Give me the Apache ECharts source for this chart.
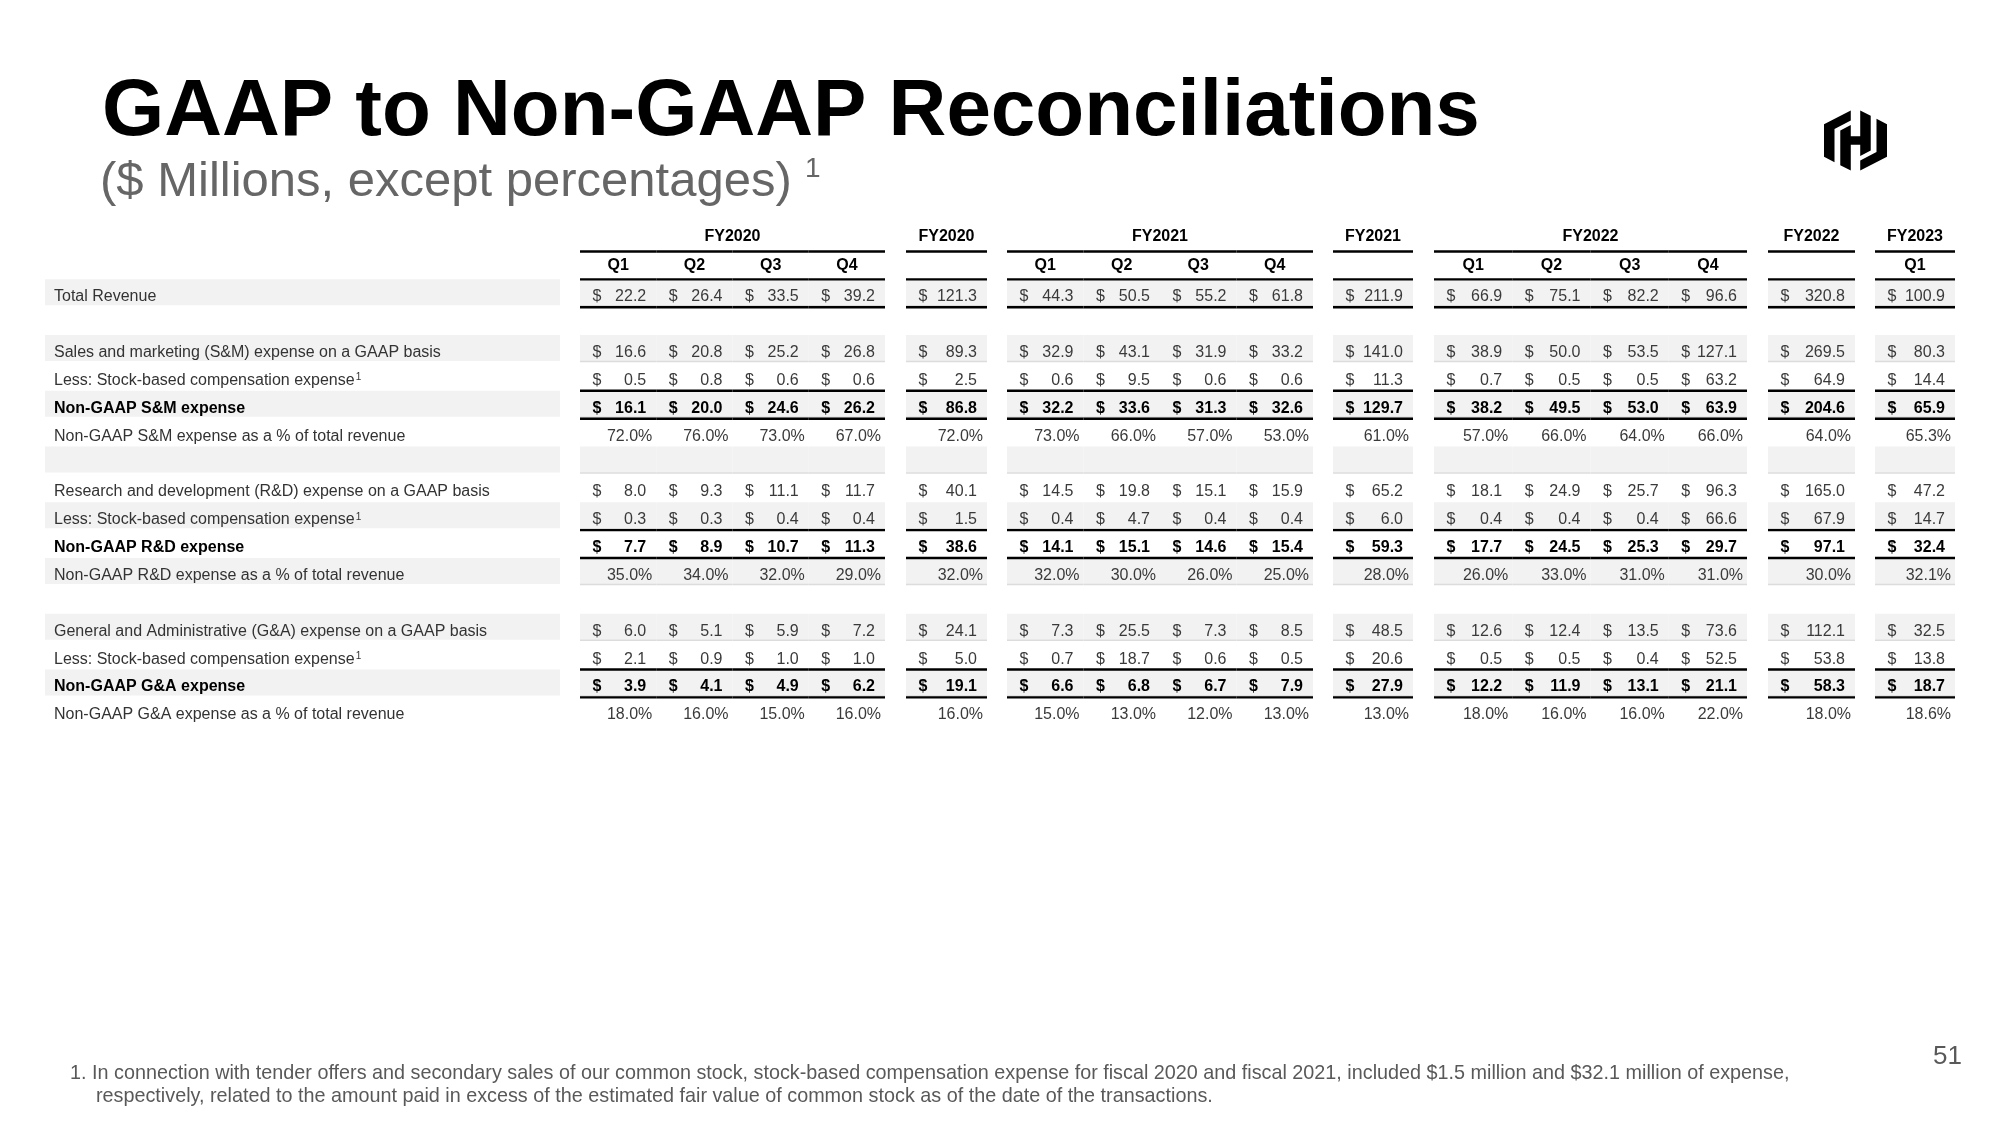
<!DOCTYPE html>
<html>
<head>
<meta charset="utf-8">
<title>GAAP to Non-GAAP Reconciliations</title>
<script src="https://cdn.jsdelivr.net/npm/echarts@6/dist/echarts.min.js"></script>
<style>
html, body { margin: 0; padding: 0; background: #fff; }
#main { width: 2000px; height: 1125px; }
</style>
</head>
<body>
<div id="main"></div>
<script>
// column headers (7 column groups)
const fyHeaders = ['FY2020', 'FY2020', 'FY2021', 'FY2021', 'FY2022', 'FY2022', 'FY2023'];
const quarterHeaders = [['Q1', 'Q2', 'Q3', 'Q4'], [''], ['Q1', 'Q2', 'Q3', 'Q4'], [''], ['Q1', 'Q2', 'Q3', 'Q4'], [''], ['Q1']];

// values, 16 columns: FY20 Q1-Q4, FY20, FY21 Q1-Q4, FY21, FY22 Q1-Q4, FY22, FY23 Q1
const totalRevenue = [22.2, 26.4, 33.5, 39.2, 121.3, 44.3, 50.5, 55.2, 61.8, 211.9, 66.9, 75.1, 82.2, 96.6, 320.8, 100.9];
const smGaap = [16.6, 20.8, 25.2, 26.8, 89.3, 32.9, 43.1, 31.9, 33.2, 141.0, 38.9, 50.0, 53.5, 127.1, 269.5, 80.3];
const smSbc = [0.5, 0.8, 0.6, 0.6, 2.5, 0.6, 9.5, 0.6, 0.6, 11.3, 0.7, 0.5, 0.5, 63.2, 64.9, 14.4];
const smNonGaap = [16.1, 20.0, 24.6, 26.2, 86.8, 32.2, 33.6, 31.3, 32.6, 129.7, 38.2, 49.5, 53.0, 63.9, 204.6, 65.9];
const smPct = [72.0, 76.0, 73.0, 67.0, 72.0, 73.0, 66.0, 57.0, 53.0, 61.0, 57.0, 66.0, 64.0, 66.0, 64.0, 65.3];
const rdGaap = [8.0, 9.3, 11.1, 11.7, 40.1, 14.5, 19.8, 15.1, 15.9, 65.2, 18.1, 24.9, 25.7, 96.3, 165.0, 47.2];
const rdSbc = [0.3, 0.3, 0.4, 0.4, 1.5, 0.4, 4.7, 0.4, 0.4, 6.0, 0.4, 0.4, 0.4, 66.6, 67.9, 14.7];
const rdNonGaap = [7.7, 8.9, 10.7, 11.3, 38.6, 14.1, 15.1, 14.6, 15.4, 59.3, 17.7, 24.5, 25.3, 29.7, 97.1, 32.4];
const rdPct = [35.0, 34.0, 32.0, 29.0, 32.0, 32.0, 30.0, 26.0, 25.0, 28.0, 26.0, 33.0, 31.0, 31.0, 30.0, 32.1];
const gaGaap = [6.0, 5.1, 5.9, 7.2, 24.1, 7.3, 25.5, 7.3, 8.5, 48.5, 12.6, 12.4, 13.5, 73.6, 112.1, 32.5];
const gaSbc = [2.1, 0.9, 1.0, 1.0, 5.0, 0.7, 18.7, 0.6, 0.5, 20.6, 0.5, 0.5, 0.4, 52.5, 53.8, 13.8];
const gaNonGaap = [3.9, 4.1, 4.9, 6.2, 19.1, 6.6, 6.8, 6.7, 7.9, 27.9, 12.2, 11.9, 13.1, 21.1, 58.3, 18.7];
const gaPct = [18.0, 16.0, 15.0, 16.0, 16.0, 15.0, 13.0, 12.0, 13.0, 13.0, 18.0, 16.0, 16.0, 22.0, 18.0, 18.6];

// row labels (rows 0,1 are the header rows)
const rowLabels = [
  '', '',
  'Total Revenue',
  '',
  'Sales and marketing (S&M) expense on a GAAP basis',
  'Less: Stock-based compensation expense{sup|1}',
  'Non-GAAP S&M expense',
  'Non-GAAP S&M expense as a % of total revenue',
  '',
  'Research and development (R&D) expense on a GAAP basis',
  'Less: Stock-based compensation expense{sup|1}',
  'Non-GAAP R&D expense',
  'Non-GAAP R&D expense as a % of total revenue',
  '',
  'General and Administrative (G&A) expense on a GAAP basis',
  'Less: Stock-based compensation expense{sup|1}',
  'Non-GAAP G&A expense',
  'Non-GAAP G&A expense as a % of total revenue'
];
const rowValues = [null, null, totalRevenue, null, smGaap, smSbc, smNonGaap, smPct, null,
  rdGaap, rdSbc, rdNonGaap, rdPct, null, gaGaap, gaSbc, gaNonGaap, gaPct];
const boldRows = [6, 11, 16];
const pctRows = [7, 12, 17];
const ruleRows = [0, 1, 2, 5, 6, 10, 11, 15, 16];

const footnote1 = '1. In connection with tender offers and secondary sales of our common stock, stock-based compensation expense for fiscal 2020 and fiscal 2021, included $1.5 million and $32.1 million of expense,';
const footnote2 = 'respectively, related to the amount paid in excess of the estimated fair value of common stock as of the date of the transactions.';

// layout
const FONT = "'Liberation Sans', Arial, Helvetica, sans-serif";
const TOP = 223.6, ROW_H = 27.87, TEXT_DY = 3.6;
const groupLeft = [580, 906, 1007, 1333, 1434, 1768, 1875];
const groupWidth = [305, 81, 306, 80, 313, 87, 80];
const rowKeys = rowLabels.map((d, i) => 'r' + i);
const isShaded = r => r >= 2 && r % 2 === 0;

let myChart = echarts.init(document.getElementById('main'), null, { renderer: 'canvas' });

const grids = [{ left: 45, top: TOP, width: 515, height: ROW_H * rowKeys.length }];
const xAxes = [{ type: 'category', gridIndex: 0, data: ['label'], show: false }];
const yAxes = [{ type: 'category', gridIndex: 0, data: rowKeys, inverse: true, show: false }];
const series = [];

// label column
series.push({
  type: 'custom',
  xAxisIndex: 0,
  yAxisIndex: 0,
  encode: { x: 0, y: 1 },
  data: rowLabels.map((t, r) => [0, r]).filter(d => d[1] >= 2),
  renderItem: function (params, api) {
    const r = api.value(1);
    const p = api.coord([0, r]);
    const s = api.size([1, 1]);
    const left = p[0] - s[0] / 2, top = p[1] - s[1] / 2;
    const children = [];
    if (isShaded(r)) {
      children.push({ type: 'rect', shape: { x: left, y: top, width: s[0], height: 26 }, style: { fill: '#f2f2f2' } });
    }
    const bold = boldRows.indexOf(r) >= 0;
    children.push({
      type: 'text',
      z2: 5,
      style: {
        x: left + 9, y: p[1] + TEXT_DY,
        text: rowLabels[r],
        fill: bold ? '#000' : '#333',
        fontSize: 16, fontWeight: bold ? 'bold' : 'normal', fontFamily: FONT,
        align: 'left', verticalAlign: 'middle', textAlign: 'left', textVerticalAlign: 'middle',
        rich: { sup: { fontSize: 10, fontFamily: FONT, fill: '#333', verticalAlign: 'top', padding: [0, 0, 0, 1] } }
      }
    });
    return { type: 'group', children: children };
  }
});

// value column groups
let colStart = 0;
fyHeaders.forEach(function (fy, g) {
  const gi = g + 1;
  const qs = quarterHeaders[g];
  const start = colStart;
  colStart += qs.length;
  grids.push({ left: groupLeft[g], top: TOP, width: groupWidth[g], height: ROW_H * rowKeys.length });
  xAxes.push({ type: 'category', gridIndex: gi, data: qs.map((q, i) => q || fy + '-' + i), show: false });
  yAxes.push({ type: 'category', gridIndex: gi, data: rowKeys, inverse: true, show: false });
  const data = [];
  qs.forEach(function (q, c) {
    rowKeys.forEach(function (k, r) {
      const arr = rowValues[r];
      data.push([c, r, arr ? arr[start + c] : '-']);
    });
  });
  series.push({
    type: 'custom',
    xAxisIndex: gi,
    yAxisIndex: gi,
    encode: { x: 0, y: 1 },
    data: data,
    renderItem: function (params, api) {
      const c = api.value(0), r = api.value(1), v = api.value(2);
      const p = api.coord([c, r]);
      const s = api.size([1, 1]);
      const w = s[0], h = s[1];
      const left = p[0] - w / 2, top = p[1] - h / 2, right = left + w;
      const children = [];
      if (isShaded(r)) {
        children.push({ type: 'rect', z2: 0, shape: { x: left, y: top, width: w, height: 26 }, style: { fill: '#f2f2f2' } });
        children.push({ type: 'line', z2: 1, shape: { x1: left, y1: top + 26.5, x2: right, y2: top + 26.5 }, style: { stroke: '#dcdcdc', lineWidth: 1.5 } });
      }
      if (ruleRows.indexOf(r) >= 0) {
        children.push({ type: 'line', z2: 10, shape: { x1: left, y1: top + h, x2: right, y2: top + h }, style: { stroke: '#000', lineWidth: 2.4 } });
      }
      const headStyle = { fill: '#000', fontSize: 16, fontWeight: 'bold', fontFamily: FONT, align: 'center', verticalAlign: 'middle', textAlign: 'center', textVerticalAlign: 'middle' };
      if (r === 0 && c === 0) {
        const a = api.coord([0, 0])[0], b = api.coord([qs.length - 1, 0])[0];
        children.push({ type: 'text', z2: 5, style: Object.assign({ x: (a + b) / 2, y: p[1] - 0.5, text: fy }, headStyle) });
      } else if (r === 1 && qs[c]) {
        children.push({ type: 'text', z2: 5, style: Object.assign({ x: p[0], y: p[1], text: qs[c] }, headStyle) });
      } else if (r >= 2 && !isNaN(v)) {
        const bold = boldRows.indexOf(r) >= 0;
        const base = { fill: bold ? '#000' : '#3a3a3a', fontSize: 16, fontWeight: bold ? 'bold' : 'normal', fontFamily: FONT, verticalAlign: 'middle', textVerticalAlign: 'middle' };
        const y = p[1] + TEXT_DY;
        if (pctRows.indexOf(r) >= 0) {
          children.push({ type: 'text', z2: 5, style: Object.assign({ x: right - 4, y: y, text: v.toFixed(1) + '%', align: 'right', textAlign: 'right' }, base) });
        } else {
          children.push({ type: 'text', z2: 5, style: Object.assign({ x: left + 12.5, y: y, text: '$', align: 'left', textAlign: 'left' }, base) });
          children.push({ type: 'text', z2: 5, style: Object.assign({ x: right - 10, y: y, text: v.toFixed(1), align: 'right', textAlign: 'right' }, base) });
        }
      }
      return { type: 'group', children: children };
    }
  });
});

// HashiCorp mark: three pieces in a 24 x 26 box, placed at 1824,108 size 63 x 65
const logoPieces = [
  [[0, 6.5], [10.2, 0.975], [10.2, 5], [4, 8.4], [4, 21.67], [0, 19.5]],
  [[13.8, 0.975], [17.8, 3.14], [17.8, 17], [13.8, 19.2], [13.8, 14.7], [10.2, 14.7], [10.2, 25.025], [6.2, 22.86], [6.2, 9], [10.2, 6.8], [10.2, 11.3], [13.8, 11.3]],
  [[24, 19.5], [13.8, 25.025], [13.8, 21], [20, 17.6], [20, 4.33], [24, 6.5]]
];
const logo = logoPieces.map(pts => ({
  type: 'polygon',
  shape: { points: pts.map(pt => [1824 + pt[0] * 63 / 24, 108 + pt[1] * 65 / 26]) },
  style: { fill: '#000' }
}));

myChart.setOption({
  animation: false,
  backgroundColor: '#fff',
  grid: grids,
  xAxis: xAxes,
  yAxis: yAxes,
  series: series,
  graphic: [
    { type: 'text', x: 102, y: 113, style: { text: 'GAAP to Non-GAAP Reconciliations', fill: '#000', fontSize: 80, fontWeight: 'bold', fontFamily: FONT, align: 'left', verticalAlign: 'middle' } },
    { type: 'text', x: 100, y: 182, style: { text: '($ Millions, except percentages)', fill: '#666', fontSize: 49, fontFamily: FONT, align: 'left', verticalAlign: 'middle' } },
    { type: 'text', x: 805, y: 169, style: { text: '1', fill: '#666', fontSize: 28, fontFamily: FONT, align: 'left', verticalAlign: 'middle' } }
  ].concat(logo).concat([
    { type: 'text', x: 70, y: 1074, style: { text: footnote1, fill: '#595959', fontSize: 19.8, fontFamily: FONT, align: 'left', verticalAlign: 'middle' } },
    { type: 'text', x: 96, y: 1097, style: { text: footnote2, fill: '#595959', fontSize: 19.8, fontFamily: FONT, align: 'left', verticalAlign: 'middle' } },
    { type: 'text', x: 1962, y: 1057, style: { text: '51', fill: '#595959', fontSize: 26, fontFamily: FONT, align: 'right', verticalAlign: 'middle' } }
  ])
});
</script>
</body>
</html>
